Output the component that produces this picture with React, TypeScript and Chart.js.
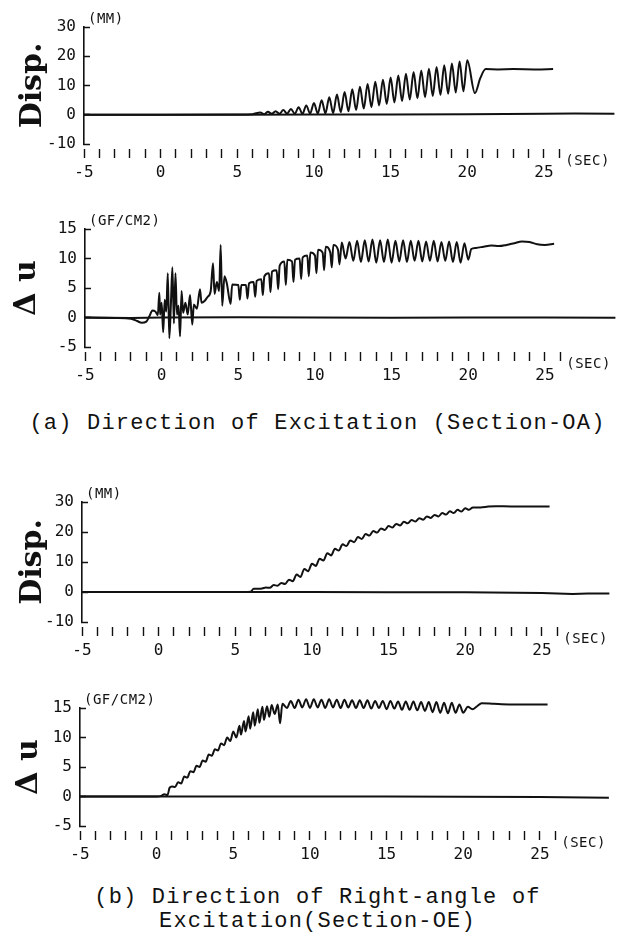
import React, { useEffect, useRef } from "react";
import { Chart, registerables } from "chart.js";

Chart.register(...registerables);

type Pt = [number, number];

// ---------- axis ticks ----------
const X_TICKS = [-5, -4, -3, -2, -1, 0, 1, 2, 3, 4, 5, 6, 7, 8, 9, 10, 11, 12, 13, 14, 15, 16, 17, 18, 19, 20, 21, 22, 23, 24, 25, 26];
const X_LABELED = [-5, 0, 5, 10, 15, 20, 25];
const DISP_TICKS = [-10, 0, 10, 20, 30];
const DU_TICKS = [-5, 0, 5, 10, 15];

// ---------- (a) Section-OA : displacement ----------
const dispOA: Pt[] = [
  [-5, 0], [0, 0], [5, 0.1], [6, 0.2],
  [6.5, 0.8], [6.75, 0.2], [7, 1.0], [7.25, 0.3], [7.5, 1.2], [7.75, 0.3], [8, 1.6], [8.25, 0.4],
  [8.5, 2.0], [8.75, 0.3], [9, 2.6], [9.25, 0.3], [9.5, 3.2], [9.75, 0.4], [10, 4.0], [10.25, 0.4],
  [10.5, 5.0], [10.75, 0.5], [11, 6.0], [11.25, 0.6], [11.5, 6.9], [11.75, 0.9], [12, 7.8], [12.25, 1.2],
  [12.5, 8.7], [12.75, 1.6], [13, 9.6], [13.25, 2.1], [13.5, 10.5], [13.75, 2.6], [14, 11.3], [14.25, 3.2],
  [14.5, 12.0], [14.75, 3.7], [15, 12.7], [15.25, 4.2], [15.5, 13.4], [15.75, 4.7], [16, 14.0], [16.25, 5.2],
  [16.5, 14.6], [16.75, 5.6], [17, 15.1], [17.25, 6.0], [17.5, 15.7], [17.75, 6.4], [18, 16.3], [18.25, 6.8],
  [18.5, 16.9], [18.75, 7.2], [19, 17.5], [19.25, 7.6], [19.5, 18.2], [19.75, 8.0], [20, 18.6],
  [20.5, 7.4], [20.85, 12.5], [21.2, 15.6], [22, 15.5], [23, 15.6], [24.5, 15.5], [25.6, 15.6],
];
const zeroOA1: Pt[] = [[-5, 0], [5, 0], [10, 0.1], [15, 0.1], [20, 0.2], [25, 0.3], [27, 0.4], [29.6, 0.3]];

// ---------- (a) Section-OA : pore pressure ----------
const duOA: Pt[] = [
  [-5, 0], [-3, -0.1], [-2, -0.2], [-1.6, -0.6], [-1.3, -0.9], [-1.0, -0.7], [-0.8, 0.2], [-0.6, 1.2],
  [-0.4, 1.0], [-0.25, 0.4], [-0.15, 4.2], [-0.1, 0.5], [0, 2.5], [0.1, -2.5], [0.2, 3], [0.3, 1],
  [0.4, 7.5], [0.5, -3.5], [0.6, 2], [0.7, 8.5], [0.8, -1], [0.9, 7.5], [1.0, 0.5], [1.1, 2],
  [1.2, -3.2], [1.3, 4.5], [1.4, 0.8], [1.55, 2.5], [1.7, 0.5], [1.85, 3.8], [2.0, -1.2], [2.1, 2.2],
  [2.3, 1.5], [2.5, 4.8], [2.6, 2.5], [2.8, 2.8], [3.0, 3.5], [3.2, 4.5], [3.35, 9.2], [3.45, 4],
  [3.6, 6], [3.75, 4.5], [3.85, 12.3], [3.95, 2], [4.1, 7], [4.25, 5.8], [4.5, 2.3], [4.6, 5.6],
  [5.0, 5.5], [5.1, 3], [5.2, 5.5], [5.5, 5.5], [5.6, 3.2], [5.7, 5.8], [6.0, 6], [6.1, 3.5],
  [6.2, 6.2], [6.5, 6.5], [6.6, 3.8], [6.7, 7], [7.0, 7.5], [7.1, 4.3], [7.2, 7.8], [7.5, 8],
  [7.6, 4.8], [7.7, 8.8], [8.0, 9.5], [8.1, 5.5], [8.2, 9.8], [8.5, 9.5], [8.6, 6], [8.7, 9.8],
  [9.0, 10], [9.1, 6.5], [9.2, 10.2], [9.5, 10.5], [9.6, 7], [9.7, 11], [10.0, 10.5], [10.1, 7.5],
  [10.2, 11.5], [10.5, 11], [10.6, 8], [10.7, 12], [11.0, 11], [11.1, 8.5], [11.2, 12.3], [11.5, 11.5],
  [11.6, 9], [11.75, 12.7], [12, 10.0], [12.25, 12.8], [12.5, 9.6], [12.75, 13.0], [13, 9.4], [13.25, 13.1],
  [13.5, 9.5], [13.75, 13.2], [14, 9.3], [14.25, 13.1], [14.5, 9.4], [14.75, 13.2], [15, 9.3], [15.25, 13.0],
  [15.5, 9.5], [15.75, 13.1], [16, 9.4], [16.25, 13.0], [16.5, 9.6], [16.75, 13.0], [17, 9.5], [17.25, 12.9],
  [17.5, 9.6], [17.75, 13.0], [18, 9.5], [18.25, 12.8], [18.5, 9.6], [18.75, 12.9], [19, 9.4], [19.25, 12.8],
  [19.5, 9.3], [19.75, 12.6], [20, 9.8], [20.2, 11.6], [20.5, 11.8], [21, 12.0], [21.5, 12.2], [22, 12.1],
  [22.5, 12.3], [23, 12.6], [23.5, 12.9], [24, 12.8], [24.5, 12.4], [25, 12.3], [25.6, 12.5],
];
const zeroOA2: Pt[] = [[-5, 0], [-2, -0.1], [0, 0], [5, 0.05], [10, 0], [15, -0.05], [20, 0], [25, 0], [29.6, -0.05]];

// ---------- (b) Section-OE : displacement ----------
const dispOE: Pt[] = [
  [-5, 0], [0, 0], [5, 0], [6.0, 0.1], [6.2, 1.1], [6.5, 1.1], [6.75, 1.2], [7.0, 1.5], [7.25, 1.4],
  [7.5, 2.3], [7.75, 2.1], [8.0, 3.0], [8.25, 2.7], [8.5, 4.1], [8.75, 3.6], [9.0, 5.8], [9.25, 5.0],
  [9.5, 7.7], [9.75, 6.9], [10.0, 9.4], [10.25, 8.7], [10.5, 11.1], [10.75, 10.5], [11.0, 12.9], [11.25, 12.2],
  [11.5, 14.4], [11.75, 13.8], [12.0, 15.9], [12.25, 15.3], [12.5, 17.2], [12.75, 16.6], [13.0, 18.3], [13.25, 17.7],
  [13.5, 19.3], [13.75, 18.8], [14.0, 20.3], [14.25, 19.8], [14.5, 21.2], [14.75, 20.7], [15.0, 22.0], [15.25, 21.5],
  [15.5, 22.7], [15.75, 22.2], [16.0, 23.4], [16.25, 22.9], [16.5, 24.0], [16.75, 23.5], [17.0, 24.6], [17.25, 24.1],
  [17.5, 25.2], [17.75, 24.7], [18.0, 25.7], [18.25, 25.2], [18.5, 26.3], [18.75, 25.8], [19.0, 26.9], [19.25, 26.3],
  [19.5, 27.4], [19.75, 26.8], [20.0, 27.9], [20.25, 27.4], [20.5, 28.2], [21.0, 28.2], [21.5, 28.5], [22, 28.6],
  [23, 28.5], [24, 28.5], [25.5, 28.5],
];
const zeroOE1: Pt[] = [[-5, 0], [5, 0], [10, 0], [15, -0.1], [20, -0.1], [25, -0.3], [27, -0.7], [28, -0.5], [29.4, -0.5]];

// ---------- (b) Section-OE : pore pressure ----------
const duOE: Pt[] = [
  [-5, 0], [0, 0], [0.3, 0.1], [0.5, 0.4], [0.7, 0.2], [0.85, 1.5], [1.0, 1.7], [1.2, 1.6], [1.4, 2.4],
  [1.6, 2.2], [1.8, 3.4], [2.0, 3.2], [2.2, 4.3], [2.4, 4.1], [2.6, 5.2], [2.8, 5.0], [3.0, 6.1],
  [3.2, 5.9], [3.4, 7.1], [3.6, 6.9], [3.8, 8.0], [4.0, 7.8], [4.2, 9.0], [4.4, 8.7], [4.6, 10.0],
  [4.8, 9.4], [5.0, 11.0], [5.2, 10.0], [5.4, 12.0], [5.5, 10.5], [5.7, 12.8], [5.8, 11.0], [6.0, 13.6],
  [6.1, 11.5], [6.3, 14.3], [6.4, 12.0], [6.6, 14.8], [6.7, 12.5], [6.9, 15.2], [7.0, 13.0], [7.2, 15.3],
  [7.35, 13.5], [7.5, 15.5], [7.7, 14.0], [7.9, 15.6], [8.05, 12.4], [8.2, 15.7], [8.5, 15.0], [8.75, 16.2],
  [9.0, 15.0], [9.25, 16.4], [9.5, 15.1], [9.75, 16.5], [10, 15.0], [10.25, 16.5], [10.5, 15.1], [10.75, 16.4],
  [11, 15.0], [11.25, 16.5], [11.5, 15.1], [11.75, 16.4], [12, 15.0], [12.25, 16.4], [12.5, 15.1], [12.75, 16.3],
  [13, 15.0], [13.25, 16.3], [13.5, 15.0], [13.75, 16.3], [14, 14.9], [14.25, 16.2], [14.5, 15.0], [14.75, 16.2],
  [15, 14.8], [15.25, 16.2], [15.5, 14.9], [15.75, 16.1], [16, 14.7], [16.25, 16.1], [16.5, 14.7], [16.75, 16.1],
  [17, 14.6], [17.25, 16.0], [17.5, 14.5], [17.75, 16.0], [18, 14.3], [18.25, 16.0], [18.5, 14.2], [18.75, 15.9],
  [19, 14.1], [19.25, 15.9], [19.5, 14.2], [19.75, 15.6], [20, 14.2], [20.3, 15.2], [20.6, 14.8], [20.9, 15.3],
  [21.2, 15.8], [22, 15.7], [23, 15.6], [24, 15.6], [25.5, 15.6],
];
const zeroOE2: Pt[] = [[-5, 0], [5, 0], [10, 0], [15, 0], [20, -0.05], [25, -0.1], [29.5, -0.2]];

// ---------- layout ----------
const PX_PER_SEC = 15.33;
const X_MIN = -5;
const X_MAX = 30;
const INK = "#111";

interface Panel {
  top: number; height: number; chartTop: number; chartBottom: number; axisX: number;
  yMin: number; yMax: number; yTicks: number[]; title: string; titlePad: number; unit: string;
  trace: Pt[]; zero: Pt[];
}

const PANELS: Panel[] = [
  { top: 0, height: 190, chartTop: 27, chartBottom: 144, axisX: 84, yMin: -10, yMax: 30, yTicks: DISP_TICKS, title: "Disp.", titlePad: 15, unit: "(MM)", trace: dispOA, zero: zeroOA1 },
  { top: 195, height: 190, chartTop: 34, chartBottom: 152, axisX: 85, yMin: -5, yMax: 15, yTicks: DU_TICKS, title: "\u0394 u", titlePad: 9, unit: "(GF/CM2)", trace: duOA, zero: zeroOA2 },
  { top: 470, height: 190, chartTop: 32, chartBottom: 152, axisX: 82, yMin: -10, yMax: 30, yTicks: DISP_TICKS, title: "Disp.", titlePad: 15, unit: "(MM)", trace: dispOE, zero: zeroOE1 },
  { top: 680, height: 190, chartTop: 28, chartBottom: 146, axisX: 80, yMin: -5, yMax: 15, yTicks: DU_TICKS, title: "\u0394 u", titlePad: 11, unit: "(GF/CM2)", trace: duOE, zero: zeroOE2 },
];

const tickFont = { family: "'DejaVu Sans Mono', monospace", size: 16 };
const unitStyle: React.CSSProperties = {
  position: "absolute", fontFamily: "'DejaVu Sans Mono', monospace", fontSize: 14, lineHeight: "14px",
  color: INK, whiteSpace: "nowrap", letterSpacing: 0.5,
};
const captionStyle: React.CSSProperties = {
  position: "absolute", left: 0, width: 635, textAlign: "center",
  fontFamily: "'Liberation Mono', monospace", fontSize: 22, lineHeight: "24px", color: INK,
  whiteSpace: "nowrap", letterSpacing: 1.2,
};

function PanelChart({ p }: { p: Panel }) {
  const ref = useRef<HTMLCanvasElement | null>(null);
  useEffect(() => {
    if (!ref.current) return;
    const rightEdge = p.axisX + (X_MAX - X_MIN) * PX_PER_SEC;
    const chart = new Chart(ref.current, {
      type: "line",
      data: {
        datasets: [
          {
            data: p.zero.map(([x, y]) => ({ x, y })),
            borderColor: INK, borderWidth: 2, pointRadius: 0, tension: 0, clip: false as any,
          },
          {
            data: p.trace.map(([x, y]) => ({ x, y })),
            borderColor: INK, borderWidth: 2, pointRadius: 0,
            cubicInterpolationMode: "monotone", clip: false as any,
          },
        ],
      },
      options: {
        animation: false,
        responsive: false,
        events: [],
        plugins: { legend: { display: false }, tooltip: { enabled: false } },
        layout: { padding: { top: p.chartTop, right: 635 - rightEdge, left: 0, bottom: 0 } },
        scales: {
          x: {
            type: "linear", min: X_MIN, max: X_MAX,
            afterBuildTicks: (s: any) => { s.ticks = X_TICKS.map((v) => ({ value: v })); },
            afterFit: (s: any) => { s.height = p.height - p.chartBottom; },
            border: { display: false },
            grid: {
              drawOnChartArea: false, drawTicks: true, tickLength: 14, tickColor: INK, tickWidth: 1.4,
              tickBorderDash: [0, 5, 9, 60],
            } as any,
            ticks: {
              autoSkip: false, maxRotation: 0, minRotation: 0, padding: 5, color: INK, font: tickFont,
              callback: (v: any) => (X_LABELED.includes(Number(v)) ? String(v) : ""),
            },
          },
          y: {
            type: "linear", min: p.yMin, max: p.yMax,
            afterBuildTicks: (s: any) => { s.ticks = p.yTicks.map((v) => ({ value: v })); },
            afterFit: (s: any) => { s.width = p.axisX; },
            border: { display: true, color: INK, width: 1.6 },
            grid: { drawOnChartArea: false, drawTicks: true, tickLength: -6, tickColor: INK, tickWidth: 1.5 },
            ticks: { padding: 14, color: INK, font: tickFont },
            title: {
              display: true, text: p.title, color: INK,
              font: { family: "'DejaVu Serif', serif", size: 30, weight: "bold" },
              padding: { top: p.titlePad, bottom: 0 },
            },
          },
        },
      } as any,
    });
    return () => chart.destroy();
  }, [p]);
  return (
    <canvas
      ref={ref}
      width={635}
      height={p.height}
      style={{ position: "absolute", left: 0, top: p.top, width: 635, height: p.height, display: "block" }}
    />
  );
}

export default function App() {
  return (
    <div style={{ position: "absolute", left: 0, top: 0, width: 635, height: 935, background: "#fff", overflow: "hidden" }}>
      {PANELS.map((p, i) => (
        <React.Fragment key={i}>
          <PanelChart p={p} />
          <div style={{ ...unitStyle, left: p.axisX + 4, top: p.top + p.chartTop - 16 }}>{p.unit}</div>
          <div style={{ ...unitStyle, left: p.axisX + 31 * PX_PER_SEC + 6, top: p.top + p.chartBottom + 9 }}>(SEC)</div>
        </React.Fragment>
      ))}
      <div style={{ ...captionStyle, top: 412 }}>(a) Direction of Excitation (Section-OA)</div>
      <div style={{ ...captionStyle, top: 886 }}>(b) Direction of Right-angle of</div>
      <div style={{ ...captionStyle, top: 910 }}>Excitation(Section-OE)</div>
    </div>
  );
}
